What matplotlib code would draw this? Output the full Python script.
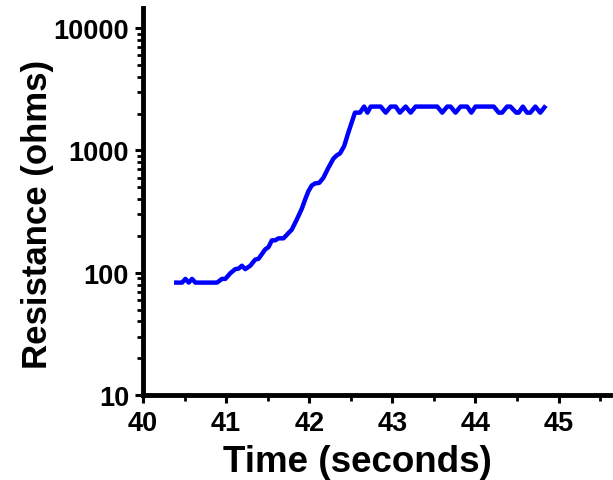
import numpy as np
import matplotlib
matplotlib.use('Agg')
import matplotlib.pyplot as plt
from matplotlib.ticker import LogLocator, FixedLocator, NullFormatter

# time (s) and resistance (ohms)
t = [40.40, 40.47, 40.51, 40.55, 40.59, 40.63, 40.89, 40.95, 40.99, 41.05,
     41.11, 41.15, 41.19, 41.23, 41.29, 41.35, 41.39, 41.47, 41.51, 41.55,
     41.59, 41.63, 41.69, 41.75, 41.79, 41.85, 41.91, 41.95, 41.99, 42.03,
     42.07, 42.12, 42.17, 42.23, 42.29, 42.33, 42.37, 42.42, 42.47, 42.51,
     42.55, 42.61, 42.66, 42.70, 42.74, 42.86, 42.92, 42.98, 43.04, 43.09,
     43.16, 43.22, 43.28, 43.54, 43.60, 43.66, 43.70, 43.76, 43.82, 43.90,
     43.95, 44.00, 44.22, 44.28, 44.32, 44.38, 44.42, 44.49, 44.52, 44.57,
     44.62, 44.66, 44.72, 44.78, 44.83]
r = [83, 83, 89, 83, 89, 83, 83, 89, 89, 99,
     107, 108, 114, 107, 114, 128, 130, 155, 162, 184,
     184, 191, 191, 211, 225, 272, 333, 396, 464, 516,
     537, 543, 597, 721, 855, 910, 945, 1084, 1396, 1687,
     2036, 2036, 2282, 2036, 2282, 2282, 2036, 2282, 2282, 2036,
     2282, 2036, 2282, 2282, 2036, 2282, 2282, 2036, 2282, 2282,
     2036, 2282, 2282, 2036, 2036, 2282, 2282, 2036, 2036, 2282,
     2036, 2036, 2282, 2036, 2250]

xticks = [40, 41, 42, 43, 44, 45]
yticks = [10, 100, 1000, 10000]

plt.rcParams['font.family'] = ['Liberation Sans', 'DejaVu Sans']
plt.rcParams['font.weight'] = 'bold'

fig = plt.figure(figsize=(6.13, 4.81), dpi=100)
ax = fig.add_axes([0.2333, 0.1767, 0.762, 0.8046])

ax.plot(t, r, color='#0000ff', lw=3.2, solid_joinstyle='round')

ax.set_yscale('log')
ax.set_xlim(40, 45.62)
ax.set_ylim(10, 14600)

ax.set_xticks(xticks)
ax.set_xticklabels([str(v) for v in xticks])
ax.xaxis.set_minor_locator(FixedLocator(np.arange(40.5, 45.6, 1.0)))
ax.set_yticks(yticks)
ax.set_yticklabels([str(v) for v in yticks])
ax.yaxis.set_minor_locator(LogLocator(base=10, subs=np.arange(2, 10)))
ax.yaxis.set_minor_formatter(NullFormatter())

for s in ['top', 'right']:
    ax.spines[s].set_visible(False)
for s in ['left', 'bottom']:
    ax.spines[s].set_linewidth(3.5)

ax.tick_params(which='major', length=6, width=2.2, labelsize=19.5)
ax.tick_params(axis='x', which='major', pad=5)
ax.tick_params(axis='y', which='major', pad=4)
ax.tick_params(which='minor', length=4, width=2)
for lab in ax.get_xticklabels() + ax.get_yticklabels():
    lab.set_fontweight('bold')

ax.set_xlabel('Time (seconds)', fontsize=26.5, fontweight='bold')
ax.set_ylabel('Resistance (ohms)', fontsize=25, fontweight='bold')
ax.xaxis.set_label_coords(0.458, -0.127)
ax.yaxis.set_label_coords(-0.19, 0.468)

fig.savefig('out.png', dpi=100)
